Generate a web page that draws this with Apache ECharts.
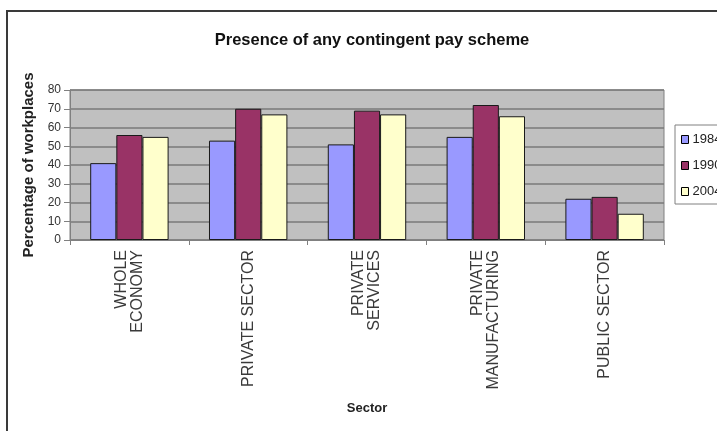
<!DOCTYPE html>
<html>
<head>
<meta charset="utf-8">
<script src="https://cdn.jsdelivr.net/npm/echarts@6/dist/echarts.min.js"></script>
<style>
  html, body { margin: 0; padding: 0; background: #ffffff; }
  #chart { width: 717px; height: 431px; }
</style>
</head>
<body>
<div id="chart"></div>
<script>
// Sectors shown along the horizontal axis
const sectors = [
  'WHOLE\nECONOMY',
  'PRIVATE SECTOR',
  'PRIVATE\nSERVICES',
  'PRIVATE\nMANUFACTURING',
  'PUBLIC SECTOR'
];

// Survey years (legend entries)
const years = ['1984', '1990', '2004'];

// Percentage of workplaces with any contingent pay scheme
const values1984 = [41, 53, 51, 55, 22];
const values1990 = [56, 70, 69, 72, 23];
const values2004 = [55, 67, 67, 66, 14];

// Value axis ticks
const yTicks = [0, 10, 20, 30, 40, 50, 60, 70, 80];

const seriesValues = [values1984, values1990, values2004];
const barColors = ['#9999ff', '#993366', '#ffffcc'];

const font = '"Liberation Sans", Arial, sans-serif';

const chart = echarts.init(document.getElementById('chart'));

chart.setOption({
  backgroundColor: '#ffffff',
  animation: false,
  textStyle: { fontFamily: font },
  graphic: [{
    type: 'rect',
    shape: { x: 7, y: 11, width: 800, height: 500 },
    style: { fill: 'none', stroke: '#3a3a3a', lineWidth: 2 },
    silent: true,
    z: 0
  }],
  title: {
    text: 'Presence of any contingent pay scheme',
    left: 367,
    top: 27,
    textAlign: 'center',
    textStyle: { fontFamily: font, fontSize: 16.5, fontWeight: 'bold', color: '#111111' }
  },
  legend: {
    data: years,
    orient: 'vertical',
    left: 675,
    top: 125,
    padding: [8, 10, 6, 6],
    itemWidth: 7,
    itemHeight: 8,
    itemGap: 13,
    icon: 'rect',
    backgroundColor: '#ffffff',
    borderColor: '#808080',
    borderWidth: 1,
    borderRadius: 0,
    itemStyle: { borderColor: '#000000', borderWidth: 1 },
    textStyle: { fontFamily: font, fontSize: 13, color: '#222222', padding: [0, 0, 0, -1] }
  },
  grid: {
    left: 70,
    top: 90,
    right: 53,
    bottom: 191,
    show: true,
    backgroundColor: '#c0c0c0',
    borderColor: '#808080',
    borderWidth: 1
  },
  xAxis: {
    type: 'category',
    data: sectors,
    name: 'Sector',
    nameLocation: 'middle',
    nameGap: 162,
    nameTextStyle: { fontFamily: font, fontSize: 13, fontWeight: 'bold', color: '#222222' },
    axisLine: { show: true, lineStyle: { color: '#808080', width: 1 } },
    axisTick: { show: true, alignWithLabel: false, length: 5, lineStyle: { color: '#808080' } },
    axisLabel: {
      rotate: 90,
      interval: 0,
      margin: 10,
      fontFamily: font,
      fontSize: 16,
      lineHeight: 16,
      color: '#3a3a3a'
    },
    splitLine: { show: false }
  },
  yAxis: {
    type: 'value',
    min: yTicks[0],
    max: yTicks[yTicks.length - 1],
    interval: yTicks[1] - yTicks[0],
    name: 'Percentage of workplaces',
    nameLocation: 'middle',
    nameGap: 31,
    nameTextStyle: { fontFamily: font, fontSize: 15, fontWeight: 'bold', color: '#222222' },
    axisLine: { show: true, lineStyle: { color: '#808080', width: 1 } },
    axisTick: { show: true, length: 6, lineStyle: { color: '#808080' } },
    axisLabel: { margin: 9, fontFamily: font, fontSize: 12, color: '#333333' },
    splitLine: { show: true, lineStyle: { color: '#7a7a7a', width: 1.5 } }
  },
  series: years.map((year, i) => ({
    name: year,
    type: 'bar',
    data: seriesValues[i],
    barGap: '0%',
    barCategoryGap: '34%',
    itemStyle: { color: barColors[i], borderColor: '#1a1a1a', borderWidth: 1 }
  }))
});
</script>
</body>
</html>
